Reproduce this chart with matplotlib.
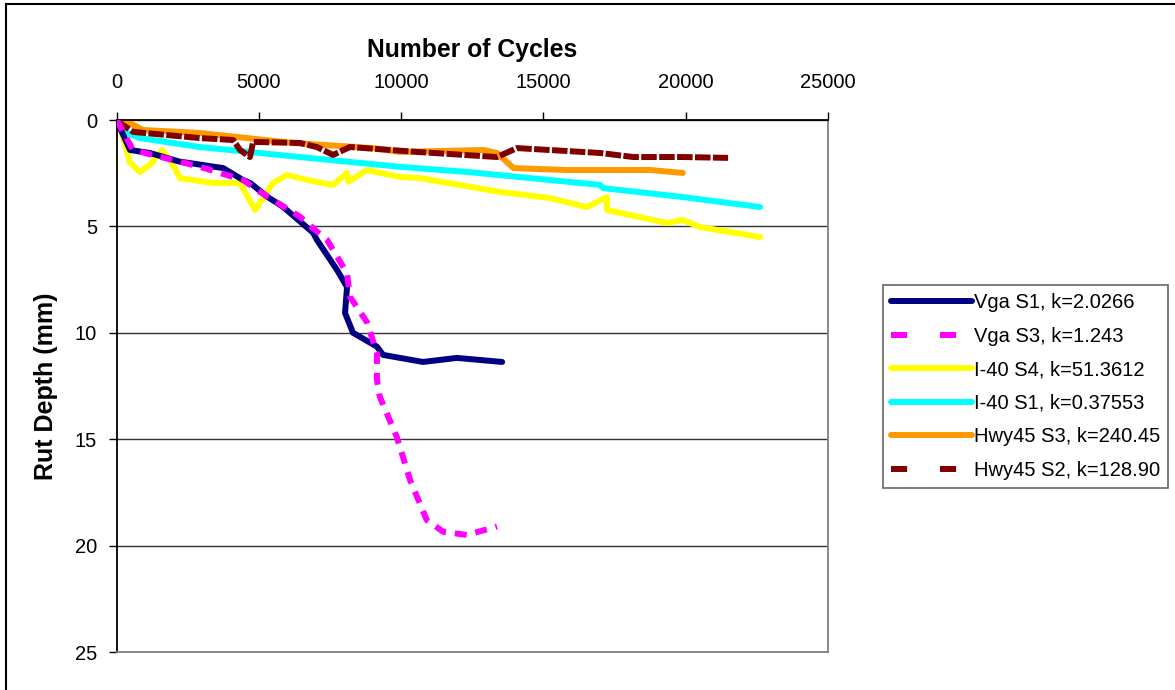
import matplotlib
matplotlib.use("Agg")
import matplotlib.pyplot as plt
from matplotlib.lines import Line2D

plt.rcParams['font.family'] = ['Liberation Sans', 'DejaVu Sans']

# ---- data ----
vga_s1_x = [0, 475, 1177, 2200, 3200, 3750, 4445, 4700, 5290, 5850, 6910, 7045, 7750, 8100, 8030, 8310, 9150, 9370, 10770, 11960, 13550]
vga_s1_y = [0, 1.41, 1.55, 1.95, 2.15, 2.26, 2.82, 2.96, 3.6, 4.08, 5.3, 5.64, 7.05, 7.85, 9.07, 10.0, 10.65, 11.04, 11.37, 11.18, 11.37]

vga_s3_x = [0, 580, 1530, 2930, 4445, 4940, 6450, 7270, 7400, 8100, 8200, 8800, 9150, 9150, 9250, 9850, 10310, 10900, 11480, 12310, 13370]
vga_s3_y = [0, 1.41, 1.73, 2.2, 2.82, 3.29, 4.55, 5.5, 5.64, 7.2, 8.3, 9.5, 10.95, 12.2, 13.0, 14.9, 16.9, 18.8, 19.35, 19.5, 19.1]

i40_s4_x = [0, 230, 470, 820, 1180, 1600, 1880, 2230, 2690, 3390, 4340, 4870, 5500, 5990, 6690, 7610, 8100, 8150, 8800, 9960, 10660, 13480, 15230, 16530, 17230, 17230, 19340, 19900, 20500, 22610]
i40_s4_y = [0, 0.8, 2.0, 2.44, 2.1, 1.41, 1.88, 2.73, 2.82, 2.96, 2.96, 4.23, 2.96, 2.58, 2.82, 3.05, 2.49, 2.9, 2.35, 2.68, 2.73, 3.38, 3.67, 4.09, 3.62, 4.23, 4.84, 4.7, 5.03, 5.5]

i40_s1_x = [0, 370, 820, 2930, 6450, 9960, 12310, 16990, 17100, 19900, 22610]
i40_s1_y = [0, 0.61, 0.85, 1.27, 1.74, 2.2, 2.44, 3.05, 3.2, 3.62, 4.09]

hwy45_s3_x = [0, 475, 930, 2930, 6200, 9020, 9960, 12900, 13370, 13950, 15830, 18750, 19900]
hwy45_s3_y = [0, 0.15, 0.47, 0.61, 1.08, 1.32, 1.5, 1.41, 1.55, 2.26, 2.35, 2.35, 2.49]

hwy45_s2_x = [0, 120, 590, 2930, 4100, 4340, 4690, 4800, 6450, 7040, 7610, 8200, 10560, 13370, 14070, 16990, 18160, 19900, 21490]
hwy45_s2_y = [0, 0.14, 0.56, 0.85, 0.94, 1.41, 1.74, 1.03, 1.08, 1.27, 1.64, 1.27, 1.5, 1.74, 1.32, 1.55, 1.74, 1.74, 1.78]

labels = ["Vga S1, k=2.0266", "Vga S3, k=1.243", "I-40 S4, k=51.3612",
          "I-40 S1, k=0.37553", "Hwy45 S3, k=240.45", "Hwy45 S2, k=128.90"]
x_ticks = [0, 5000, 10000, 15000, 20000, 25000]
y_ticks = [0, 5, 10, 15, 20, 25]

fig = plt.figure(figsize=(11.75, 6.9), dpi=100)
ax = fig.add_axes([116.5 / 1175, 1 - 652 / 690, (828 - 116.5) / 1175, (652 - 120) / 690])

lw = 4.3
ax.plot(vga_s1_x, vga_s1_y, color='#000080', lw=lw, solid_capstyle='round', solid_joinstyle='round', zorder=3)
ax.plot(vga_s3_x, vga_s3_y, color='#FF00FF', lw=lw, dashes=(2.0, 1.5), zorder=4)
ax.plot(i40_s4_x, i40_s4_y, color='#FFFF00', lw=lw, solid_capstyle='round', solid_joinstyle='round', zorder=2)
ax.plot(i40_s1_x, i40_s1_y, color='#00FFFF', lw=lw, solid_capstyle='round', solid_joinstyle='round', zorder=2)
ax.plot(hwy45_s3_x, hwy45_s3_y, color='#FF9900', lw=lw, solid_capstyle='round', solid_joinstyle='round', zorder=2)
ax.plot(hwy45_s2_x, hwy45_s2_y, color='#800000', lw=lw, dashes=(2.6, 0.4), zorder=3)

ax.set_xlim(0, 25000)
ax.set_ylim(25, 0)
ax.set_xticks(x_ticks)
ax.set_yticks(y_ticks)
ax.xaxis.tick_top()
ax.xaxis.set_label_position('top')
ax.tick_params(axis='both', direction='out', length=6, width=1, labelsize=14.5, color='black')
ax.tick_params(axis='x', pad=14)
ax.tick_params(axis='y', pad=8)
ax.grid(axis='y', color='#333333', lw=1)
ax.set_axisbelow(True)
ax.spines['left'].set_color('black')
ax.spines['top'].set_color('black')
ax.spines['right'].set_color('#808080')
ax.spines['bottom'].set_color('#808080')
for s in ax.spines.values():
    s.set_linewidth(1.3)

ax.set_xlabel("Number of Cycles", fontsize=17.8, fontweight='bold', labelpad=12)
ax.set_ylabel("Rut Depth (mm)", fontsize=18, fontweight='bold', labelpad=12)

handles = [
    Line2D([], [], color='#000080', lw=lw, solid_capstyle='round'),
    Line2D([], [], color='#FF00FF', lw=lw, dashes=(2.7, 5.5)),
    Line2D([], [], color='#FFFF00', lw=lw, solid_capstyle='round'),
    Line2D([], [], color='#00FFFF', lw=lw, solid_capstyle='round'),
    Line2D([], [], color='#FF9900', lw=lw, solid_capstyle='round'),
    Line2D([], [], color='#800000', lw=lw, dashes=(2.7, 5.5)),
]
leg = fig.legend(handles, labels, loc='upper left', bbox_to_anchor=(883 / 1175, 1 - 285 / 690),
                 fontsize=14.5, frameon=True, fancybox=False, edgecolor='#404040',
                 handlelength=4.0, handletextpad=0.1, borderpad=0.4, labelspacing=0.72,
                 borderaxespad=0)
leg.get_frame().set_linewidth(1.2)

# outer chart-area border (top and left visible)
fig.add_artist(Line2D([6 / 1175, 6 / 1175], [0, 1 - 4 / 690], color='black', lw=1.5, transform=fig.transFigure))
fig.add_artist(Line2D([6 / 1175, 1], [1 - 4 / 690, 1 - 4 / 690], color='black', lw=1.5, transform=fig.transFigure))

fig.savefig("out.png", dpi=100, facecolor='white')
